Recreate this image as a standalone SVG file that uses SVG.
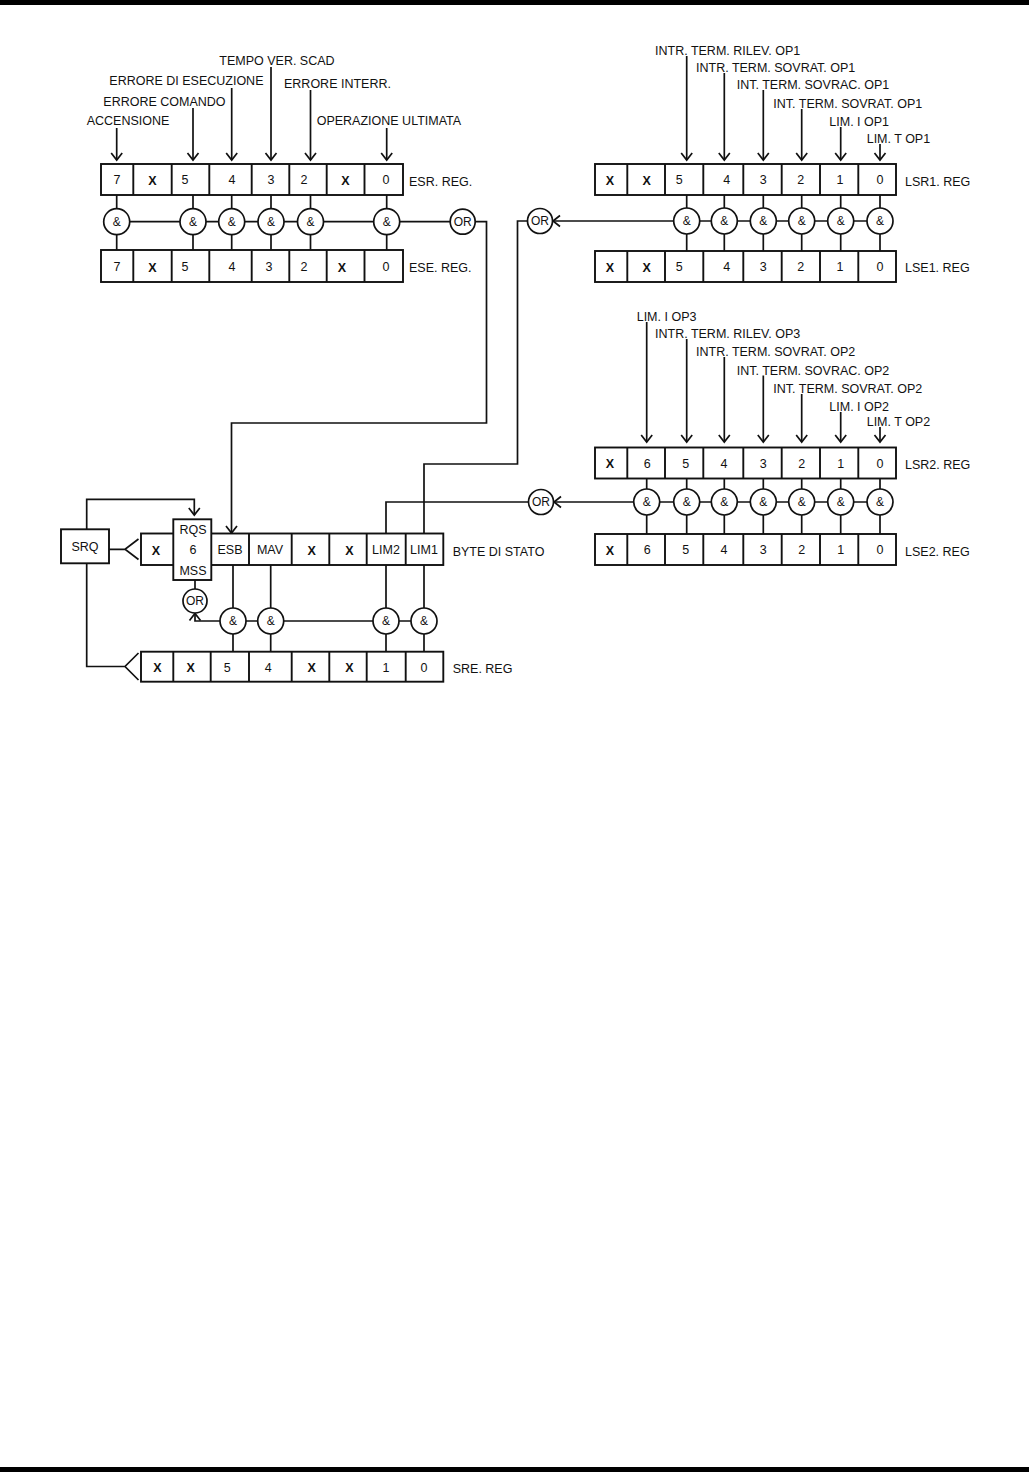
<svg xmlns="http://www.w3.org/2000/svg" width="1029" height="1472" viewBox="0 0 1029 1472">
<style>
.ln{stroke:#111;stroke-width:1.7;fill:none}
.bx{stroke:#111;stroke-width:1.9;fill:#fff}
.sp{stroke:#111;stroke-width:1.9}
.gt{stroke:#111;stroke-width:1.7;fill:#fff}
text{font-family:"Liberation Sans",Arial,Helvetica,sans-serif;fill:#111}
.lb{font-size:12.5px}
.c{font-size:12.5px;text-anchor:middle}
.x{font-size:12.5px;font-weight:bold;text-anchor:middle}
.g{font-size:12px;text-anchor:middle}
</style>
<defs>
<marker id="ah" viewBox="-8 -7 10 14" markerWidth="10" markerHeight="14" markerUnits="userSpaceOnUse" refX="0" refY="0" orient="auto"><path d="M-7,-5.5 L0,0 L-7,5.5" fill="none" stroke="#111" stroke-width="1.7"/></marker>
</defs>
<rect x="0" y="0" width="1029" height="5" fill="#000"/>
<rect x="0" y="1467" width="1029" height="5" fill="#000"/>

<g id="connectors">
<path class="ln" d="M116.7,128V160" marker-end="url(#ah)"/>
<path class="ln" d="M193,108V160" marker-end="url(#ah)"/>
<path class="ln" d="M231.7,88V160" marker-end="url(#ah)"/>
<path class="ln" d="M271,67V160" marker-end="url(#ah)"/>
<path class="ln" d="M310.5,90V160" marker-end="url(#ah)"/>
<path class="ln" d="M386.7,128V160" marker-end="url(#ah)"/>
<path class="ln" d="M116.7,195V250M193,195V250M231.7,195V250M271,195V250M310.5,195V250M386.7,195V250"/>
<path class="ln" d="M116.7,221.7H462.7"/>
<path class="ln" d="M475.2,221.7H486.5V423H231.5V533" marker-end="url(#ah)"/>

<path class="ln" d="M686.7,56V160" marker-end="url(#ah)"/>
<path class="ln" d="M724.3,73V160" marker-end="url(#ah)"/>
<path class="ln" d="M763.3,90V160" marker-end="url(#ah)"/>
<path class="ln" d="M801.7,109V160" marker-end="url(#ah)"/>
<path class="ln" d="M840.7,127V160" marker-end="url(#ah)"/>
<path class="ln" d="M880,144V160" marker-end="url(#ah)"/>
<path class="ln" d="M686.7,195V251M724.3,195V251M763.3,195V251M801.7,195V251M840.7,195V251M880,195V251"/>
<path class="ln" d="M880,221H553" marker-end="url(#ah)"/>
<path class="ln" d="M527.5,221H517.5V464H424V533.5"/>

<path class="ln" d="M646.7,322V442" marker-end="url(#ah)"/>
<path class="ln" d="M686.7,339V442" marker-end="url(#ah)"/>
<path class="ln" d="M724.3,357V442" marker-end="url(#ah)"/>
<path class="ln" d="M763.3,375.5V442" marker-end="url(#ah)"/>
<path class="ln" d="M801.7,394V442" marker-end="url(#ah)"/>
<path class="ln" d="M840.7,412V442" marker-end="url(#ah)"/>
<path class="ln" d="M880,427V442" marker-end="url(#ah)"/>
<path class="ln" d="M646.7,478.5V534M686.7,478.5V534M724.3,478.5V534M763.3,478.5V534M801.7,478.5V534M840.7,478.5V534M880,478.5V534"/>
<path class="ln" d="M880,502H554" marker-end="url(#ah)"/>
<path class="ln" d="M528.5,502H386V533.5"/>

<path class="ln" d="M233,565V651.7M270.7,565V651.7M386,565V651.7M424,565V651.7"/>
<path class="ln" d="M424,621H195V613.5" marker-end="url(#ah)"/>
<path class="ln" d="M195,580V589"/>
<path class="ln" d="M109,549.3H125M138.5,539L125,549.3L138.5,559.5"/>
<path class="ln" d="M86.7,529.3V499.3H194.3V515" marker-end="url(#ah)"/>
<path class="ln" d="M86.7,563.3V666.5H125M138.5,653L125,666.5L138.5,680"/>
</g>

<g id="esr-labels">
<text class="lb" x="219.3" y="65">TEMPO VER. SCAD</text>
<text class="lb" x="109.3" y="84.5">ERRORE DI ESECUZIONE</text>
<text class="lb" x="284" y="88">ERRORE INTERR.</text>
<text class="lb" x="103.3" y="106">ERRORE COMANDO</text>
<text class="lb" x="86.7" y="125">ACCENSIONE</text>
<text class="lb" x="316.7" y="125">OPERAZIONE ULTIMATA</text>
</g>

<g id="esr-reg">
<rect class="bx" x="101" y="164" width="302" height="31"/>
<path class="sp" d="M133.3,164V195M171.7,164V195M209.3,164V195M251.7,164V195M289.3,164V195M326.7,164V195M364.5,164V195"/>
<text class="c" x="117" y="184">7</text><text class="x" x="152.5" y="184.5">X</text><text class="c" x="185" y="184">5</text><text class="c" x="232" y="184">4</text><text class="c" x="271" y="184">3</text><text class="c" x="304" y="184">2</text><text class="x" x="345.5" y="184.5">X</text><text class="c" x="386" y="184">0</text>
<text class="lb" x="409" y="186">ESR. REG.</text>
</g>
<g id="ese-reg">
<rect class="bx" x="101" y="250" width="302" height="32"/>
<path class="sp" d="M133.3,250V282M171.7,250V282M209.3,250V282M251.7,250V282M289.3,250V282M326.7,250V282M364.5,250V282"/>
<text class="c" x="117" y="271">7</text><text class="x" x="152.5" y="271.5">X</text><text class="c" x="185" y="271">5</text><text class="c" x="232" y="271">4</text><text class="c" x="269" y="271">3</text><text class="c" x="304" y="271">2</text><text class="x" x="342" y="271.5">X</text><text class="c" x="386" y="271">0</text>
<text class="lb" x="409" y="272">ESE. REG.</text>
</g>
<g id="esr-gates">
<circle class="gt" cx="116.7" cy="221.7" r="13"/><text class="g" x="116.7" y="226">&amp;</text>
<circle class="gt" cx="193" cy="221.7" r="13"/><text class="g" x="193" y="226">&amp;</text>
<circle class="gt" cx="231.7" cy="221.7" r="13"/><text class="g" x="231.7" y="226">&amp;</text>
<circle class="gt" cx="271" cy="221.7" r="13"/><text class="g" x="271" y="226">&amp;</text>
<circle class="gt" cx="310.5" cy="221.7" r="13"/><text class="g" x="310.5" y="226">&amp;</text>
<circle class="gt" cx="386.7" cy="221.7" r="13"/><text class="g" x="386.7" y="226">&amp;</text>
</g>
<g id="esr-or">
<circle class="gt" cx="462.7" cy="221.7" r="12.5"/><text class="g" x="462.7" y="226">OR</text>
</g>

<g id="lsr1-labels">
<text class="lb" x="655" y="55">INTR. TERM. RILEV. OP1</text>
<text class="lb" x="696" y="72">INTR. TERM. SOVRAT. OP1</text>
<text class="lb" x="736.7" y="89">INT. TERM. SOVRAC. OP1</text>
<text class="lb" x="773.3" y="108">INT. TERM. SOVRAT. OP1</text>
<text class="lb" x="829.3" y="126">LIM. I OP1</text>
<text class="lb" x="866.7" y="143">LIM. T OP1</text>
</g>
<g id="lsr1-reg">
<rect class="bx" x="595" y="164" width="301" height="31"/>
<path class="sp" d="M627.3,164V195M665,164V195M703.3,164V195M743.3,164V195M781.7,164V195M820,164V195M858.3,164V195"/>
<text class="x" x="610" y="184.5">X</text><text class="x" x="646.7" y="184.5">X</text><text class="c" x="679.3" y="184">5</text><text class="c" x="726.7" y="184">4</text><text class="c" x="763.3" y="184">3</text><text class="c" x="800.7" y="184">2</text><text class="c" x="840" y="184">1</text><text class="c" x="880" y="184">0</text>
<text class="lb" x="905" y="186">LSR1. REG</text>
</g>
<g id="lse1-reg">
<rect class="bx" x="595" y="251" width="301" height="31"/>
<path class="sp" d="M627.3,251V282M665,251V282M703.3,251V282M743.3,251V282M781.7,251V282M820,251V282M858.3,251V282"/>
<text class="x" x="610" y="271.5">X</text><text class="x" x="646.7" y="271.5">X</text><text class="c" x="679.3" y="271">5</text><text class="c" x="726.7" y="271">4</text><text class="c" x="763.3" y="271">3</text><text class="c" x="800.7" y="271">2</text><text class="c" x="840" y="271">1</text><text class="c" x="880" y="271">0</text>
<text class="lb" x="905" y="272">LSE1. REG</text>
</g>
<g id="lsr1-gates">
<circle class="gt" cx="686.7" cy="221" r="13"/><text class="g" x="686.7" y="225.3">&amp;</text>
<circle class="gt" cx="724.3" cy="221" r="13"/><text class="g" x="724.3" y="225.3">&amp;</text>
<circle class="gt" cx="763.3" cy="221" r="13"/><text class="g" x="763.3" y="225.3">&amp;</text>
<circle class="gt" cx="801.7" cy="221" r="13"/><text class="g" x="801.7" y="225.3">&amp;</text>
<circle class="gt" cx="840.7" cy="221" r="13"/><text class="g" x="840.7" y="225.3">&amp;</text>
<circle class="gt" cx="880" cy="221" r="13"/><text class="g" x="880" y="225.3">&amp;</text>
</g>
<g id="lsr1-or">
<circle class="gt" cx="540" cy="221" r="12.5"/><text class="g" x="540" y="225.3">OR</text>
</g>

<g id="lsr2-labels">
<text class="lb" x="636.7" y="320.5">LIM. I OP3</text>
<text class="lb" x="655" y="338">INTR. TERM. RILEV. OP3</text>
<text class="lb" x="696" y="356">INTR. TERM. SOVRAT. OP2</text>
<text class="lb" x="736.7" y="374.5">INT. TERM. SOVRAC. OP2</text>
<text class="lb" x="773.3" y="393">INT. TERM. SOVRAT. OP2</text>
<text class="lb" x="829.3" y="411">LIM. I OP2</text>
<text class="lb" x="866.7" y="426">LIM. T OP2</text>
</g>
<g id="lsr2-reg">
<rect class="bx" x="595" y="447.5" width="301" height="31"/>
<path class="sp" d="M627.3,447.5V478.5M665,447.5V478.5M703.3,447.5V478.5M743.3,447.5V478.5M781.7,447.5V478.5M820,447.5V478.5M858.3,447.5V478.5"/>
<text class="x" x="610" y="468">X</text><text class="c" x="647.3" y="467.5">6</text><text class="c" x="685.7" y="467.5">5</text><text class="c" x="724" y="467.5">4</text><text class="c" x="763.3" y="467.5">3</text><text class="c" x="801.7" y="467.5">2</text><text class="c" x="840.7" y="467.5">1</text><text class="c" x="880" y="467.5">0</text>
<text class="lb" x="905" y="469">LSR2. REG</text>
</g>
<g id="lse2-reg">
<rect class="bx" x="595" y="534" width="301" height="31"/>
<path class="sp" d="M627.3,534V565M665,534V565M703.3,534V565M743.3,534V565M781.7,534V565M820,534V565M858.3,534V565"/>
<text class="x" x="610" y="554.5">X</text><text class="c" x="647.3" y="554">6</text><text class="c" x="685.7" y="554">5</text><text class="c" x="724" y="554">4</text><text class="c" x="763.3" y="554">3</text><text class="c" x="801.7" y="554">2</text><text class="c" x="840.7" y="554">1</text><text class="c" x="880" y="554">0</text>
<text class="lb" x="905" y="555.5">LSE2. REG</text>
</g>
<g id="lsr2-gates">
<circle class="gt" cx="646.7" cy="502" r="13"/><text class="g" x="646.7" y="506.3">&amp;</text>
<circle class="gt" cx="686.7" cy="502" r="13"/><text class="g" x="686.7" y="506.3">&amp;</text>
<circle class="gt" cx="724.3" cy="502" r="13"/><text class="g" x="724.3" y="506.3">&amp;</text>
<circle class="gt" cx="763.3" cy="502" r="13"/><text class="g" x="763.3" y="506.3">&amp;</text>
<circle class="gt" cx="801.7" cy="502" r="13"/><text class="g" x="801.7" y="506.3">&amp;</text>
<circle class="gt" cx="840.7" cy="502" r="13"/><text class="g" x="840.7" y="506.3">&amp;</text>
<circle class="gt" cx="880" cy="502" r="13"/><text class="g" x="880" y="506.3">&amp;</text>
</g>
<g id="lsr2-or">
<circle class="gt" cx="541" cy="502" r="12.5"/><text class="g" x="541" y="506.3">OR</text>
</g>

<g id="srq">
<rect class="bx" x="61" y="529.3" width="48" height="34"/>
<text class="c" x="85" y="551">SRQ</text>
</g>
<g id="status-byte">
<rect class="bx" x="141" y="533.5" width="302.3" height="31.5"/>
<path class="sp" d="M249,533.5V565M291.7,533.5V565M329.3,533.5V565M366.7,533.5V565M405.7,533.5V565"/>
<text class="x" x="156" y="554.5">X</text>
<text class="c" x="230" y="554">ESB</text>
<text class="c" x="270" y="554">MAV</text>
<text class="x" x="311.7" y="554.5">X</text>
<text class="x" x="349.3" y="554.5">X</text>
<text class="c" x="386" y="554">LIM2</text>
<text class="c" x="424" y="554">LIM1</text>
<text class="lb" x="452.7" y="556">BYTE DI STATO</text>
</g>
<g id="rqs">
<rect class="bx" x="173.3" y="519.3" width="38" height="60.7"/>
<text class="c" x="193" y="534">RQS</text>
<text class="c" x="193" y="554">6</text>
<text class="c" x="193" y="575">MSS</text>
</g>
<g id="sb-or">
<circle class="gt" cx="195" cy="601" r="12"/><text class="g" x="195" y="605.3">OR</text>
</g>
<g id="sb-gates">
<circle class="gt" cx="233" cy="621" r="13"/><text class="g" x="233" y="625.3">&amp;</text>
<circle class="gt" cx="270.7" cy="621" r="13"/><text class="g" x="270.7" y="625.3">&amp;</text>
<circle class="gt" cx="386" cy="621" r="13"/><text class="g" x="386" y="625.3">&amp;</text>
<circle class="gt" cx="424" cy="621" r="13"/><text class="g" x="424" y="625.3">&amp;</text>
</g>
<g id="sre-reg">
<rect class="bx" x="141" y="651.7" width="302.3" height="30"/>
<path class="sp" d="M173.3,651.7V681.7M210.7,651.7V681.7M249,651.7V681.7M291.7,651.7V681.7M329.3,651.7V681.7M366.7,651.7V681.7M405.7,651.7V681.7"/>
<text class="x" x="157.3" y="672">X</text><text class="x" x="190.7" y="672">X</text><text class="c" x="227.3" y="671.5">5</text><text class="c" x="268.3" y="671.5">4</text><text class="x" x="311.7" y="672">X</text><text class="x" x="349.3" y="672">X</text><text class="c" x="386" y="671.5">1</text><text class="c" x="424" y="671.5">0</text>
<text class="lb" x="452.7" y="673">SRE. REG</text>
</g>
</svg>
